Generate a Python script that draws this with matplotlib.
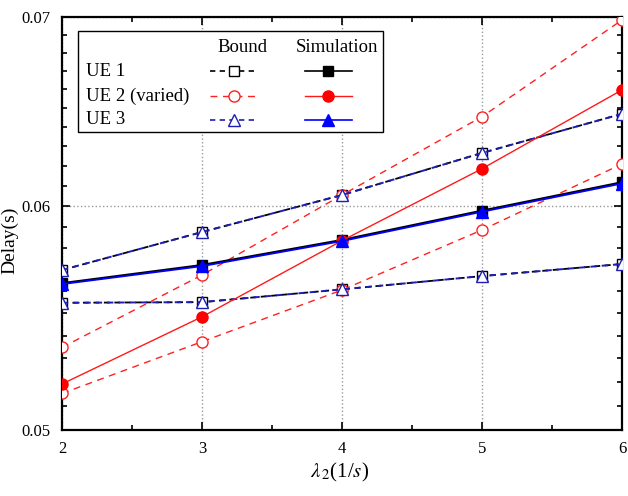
import matplotlib
matplotlib.use("Agg")
import matplotlib.pyplot as plt
from matplotlib.lines import Line2D
from matplotlib.patches import Rectangle
from matplotlib.ticker import FixedLocator, MultipleLocator, NullFormatter

plt.rcParams['font.family'] = ['Liberation Serif', 'DejaVu Serif']
plt.rcParams['mathtext.fontset'] = 'stix'

x = [2, 3, 4, 5, 6]
ue1_bound_upper = [0.05696, 0.05875, 0.06055, 0.06266, 0.06469]
ue1_bound_lower = [0.05546, 0.05549, 0.05607, 0.05668, 0.05724]
ue3_bound_upper = [0.05696, 0.05875, 0.06055, 0.06266, 0.06469]
ue3_bound_lower = [0.05546, 0.05549, 0.05607, 0.05668, 0.05724]
ue2_bound_upper = [0.05348, 0.05673, 0.06055, 0.06454, 0.06983]
ue2_bound_lower = [0.05151, 0.05373, 0.05604, 0.05885, 0.06210]
ue1_sim = [0.05635, 0.05719, 0.05837, 0.05978, 0.06118]
ue2_sim = [0.05191, 0.05483, 0.05834, 0.06186, 0.06596]
ue3_sim = [0.05631, 0.05714, 0.05832, 0.05973, 0.06112]

x_ticks = [2, 3, 4, 5, 6]
x_ticklabels = ['2', '3', '4', '5', '6']
y_ticks = [0.05, 0.06, 0.07]
y_ticklabels = ['0.05', '0.06', '0.07']
y_minor = [0.051, 0.052, 0.053, 0.054, 0.055, 0.056, 0.057, 0.058, 0.059,
           0.061, 0.062, 0.063, 0.064, 0.065, 0.066, 0.067, 0.068, 0.069]
legend_rows = ['UE 1', 'UE 2 (varied)', 'UE 3']
legend_header = ['Bound', 'Simulation']

W, H = 628, 496
fig = plt.figure(figsize=(W / 100, H / 100), dpi=100)
ax = fig.add_axes([62 / W, (H - 430) / H, 560 / W, 413 / H])

def px(xp, yp):
    return xp / W, (H - yp) / H

dash = (3.2, 2.6)
BLUE_D = '#1e1eb4'
# Bounds
for yy in (ue1_bound_upper, ue1_bound_lower):
    ax.plot(x, yy, color='black', lw=1.3, ls=(0, dash), marker='s', ms=7,
            mfc='white', mec='black', mew=1.0, zorder=3)
for yy in (ue2_bound_upper, ue2_bound_lower):
    ax.plot(x, yy, color='#ff2020', lw=1.0, ls=(0, (5, 4)), marker='o', ms=8,
            mfc='white', mec='#ff2020', mew=1.0, zorder=3)
for yy in (ue3_bound_upper, ue3_bound_lower):
    ax.plot(x, yy, color=BLUE_D, lw=1.4, ls=(0, dash), marker='^', ms=8,
            mfc='white', mec=BLUE_D, mew=1.0, zorder=4)
# Simulations
ax.plot(x, ue1_sim, color='black', lw=1.6, marker='s', ms=7, mfc='black', mec='black', zorder=5)
ax.plot(x, ue2_sim, color='#ff1a1a', lw=1.0, marker='o', ms=8, mfc='#ff0000', mec='#ff0000', zorder=5)
ax.plot(x, ue3_sim, color='#0000ff', lw=1.3, marker='^', ms=8, mfc='#0000ff', mec='#0000ff', zorder=6)

ax.set_yscale('log')
ax.set_xlim(2, 6)
ax.set_ylim(0.05, 0.07)
ax.xaxis.set_major_locator(FixedLocator(x_ticks))
ax.set_xticklabels(x_ticklabels)
ax.yaxis.set_major_locator(FixedLocator(y_ticks))
ax.set_yticklabels(y_ticklabels)
ax.yaxis.set_minor_locator(FixedLocator(y_minor))
ax.yaxis.set_minor_formatter(NullFormatter())
ax.xaxis.set_minor_locator(MultipleLocator(0.5))
ax.tick_params(which='both', direction='in', top=True, right=True, labelsize=12, width=1.2)
ax.tick_params(which='major', length=6, pad=8)
ax.tick_params(which='minor', length=3.5)
for s in ax.spines.values():
    s.set_linewidth(1.6)
ax.grid(True, which='major', ls=':', color='#999999', lw=1.0)
ax.set_axisbelow(True)

fig.text(*px(10, 240), 'Delay(s)', rotation=90, ha='center', va='center', fontsize=14)
fig.text(*px(340, 472), r'$\lambda_{\,2}$(1/$s$)', ha='center', va='center', fontsize=15)

# Custom legend table
x0, y0 = px(78, 132)
x1, y1 = px(383, 31)
fig.add_artist(Rectangle((x0, y0), x1 - x0, y1 - y0, transform=fig.transFigure,
                         fill=True, facecolor='white', edgecolor='black', lw=1.0, zorder=10))
fig.text(*px(242, 47), legend_header[0], ha='center', va='center', fontsize=13.5, zorder=11)
fig.text(*px(337, 47), legend_header[1], ha='center', va='center', fontsize=13.5, zorder=11)
row_y = [71, 96, 120]
styles = [
    (dict(color='black', lw=1.2, ls=(0, dash), marker='s', ms=7, mfc='white', mec='black'),
     dict(color='black', lw=1.2, marker='s', ms=7, mfc='black', mec='black')),
    (dict(color='#ff2020', lw=1.0, ls=(0, (5, 4)), marker='o', ms=8, mfc='white', mec='#ff2020'),
     dict(color='#ff1a1a', lw=1.0, marker='o', ms=8, mfc='#ff0000', mec='#ff0000')),
    (dict(color=BLUE_D, lw=1.2, ls=(0, dash), marker='^', ms=8, mfc='white', mec=BLUE_D),
     dict(color='#0000ff', lw=1.2, marker='^', ms=8, mfc='#0000ff', mec='#0000ff')),
]
for lab, ry, (bs, ss) in zip(legend_rows, row_y, styles):
    fig.text(*px(86, ry), lab, ha='left', va='center', fontsize=13.5, zorder=11)
    xa, ya = px(210, ry)
    xb, _ = px(258, ry)
    xm, _ = px(234, ry)
    fig.add_artist(Line2D([xa, xb], [ya, ya], transform=fig.transFigure,
                          color=bs['color'], lw=bs['lw'], ls=bs['ls'], zorder=11))
    fig.add_artist(Line2D([xm], [ya], transform=fig.transFigure, ls='none',
                          marker=bs['marker'], ms=bs['ms'], mfc=bs['mfc'], mec=bs['mec'], zorder=12))
    xa, _ = px(305, ry)
    xb, _ = px(352, ry)
    xm, _ = px(328, ry)
    fig.add_artist(Line2D([xa, xb], [ya, ya], transform=fig.transFigure,
                          color=ss['color'], lw=ss['lw'], zorder=11))
    fig.add_artist(Line2D([xm], [ya], transform=fig.transFigure, ls='none',
                          marker=ss['marker'], ms=ss['ms'], mfc=ss['mfc'], mec=ss['mec'], zorder=12))

fig.savefig('out.png', dpi=100)
